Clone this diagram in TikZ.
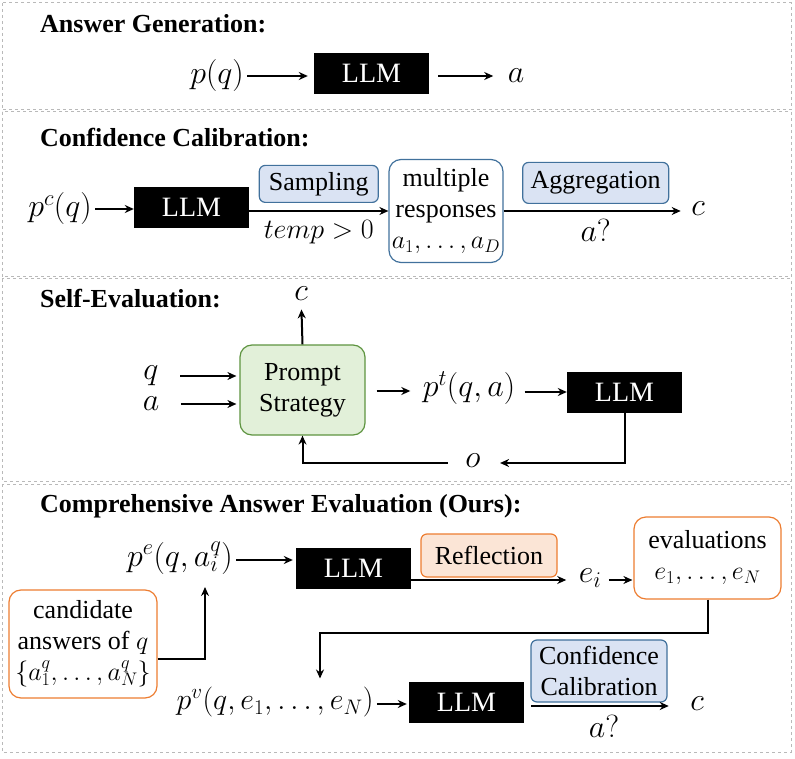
\RequirePackage{fix-cm}
\documentclass[tikz,border=0pt]{standalone}
\usepackage{fontspec}
\setmainfont{Liberation Serif}
\usetikzlibrary{arrows.meta, calc, positioning}
\definecolor{blueFill}{HTML}{DAE3F3}
\definecolor{blueLine}{HTML}{41719C}
\definecolor{orangeFill}{HTML}{FBE5D6}
\definecolor{orangeLine}{HTML}{ED7D31}
\definecolor{greenFill}{HTML}{E2F0D9}
\definecolor{greenLine}{HTML}{5E9440}

\begin{document}
\begin{tikzpicture}[x=1pt, y=-1pt,
    every node/.style={font=\fontsize{26}{31}\selectfont},
    title/.style={anchor=base west, inner sep=0, font=\fontsize{26}{31}\selectfont\bfseries},
    mathlabel/.style={font=\fontsize{32}{36}\selectfont},
    panel/.style={draw=gray!55, dashed, line width=1pt},
    arr/.style={-{Stealth[length=9pt, width=8pt]}, line width=2pt},
    llm/.style={fill=black, text=white, minimum width=115pt, minimum height=41pt, inner sep=0, font=\fontsize{28}{30}\selectfont},
    tagblue/.style={draw=blueLine, fill=blueFill, rounded corners=6pt, line width=1.2pt, inner sep=0},
    tagorange/.style={draw=orangeLine, fill=orangeFill, rounded corners=6pt, line width=1.2pt, inner sep=0},
    boxblue/.style={draw=blueLine, fill=white, rounded corners=12pt, line width=1.2pt, inner sep=0, align=center},
    boxorange/.style={draw=orangeLine, fill=white, rounded corners=12pt, line width=1.2pt, inner sep=0, align=center}
]
    \useasboundingbox (0,0) rectangle (795,759);
    \draw [panel] (2,3) rectangle (791,110);
    \draw [panel] (2,112) rectangle (791,277);
    \draw [panel] (2,279) rectangle (791,481);
    \draw [panel] (2,484) rectangle (791,752);

    % answer generation
    \node [title] (t1) at (40,33) {Answer Generation:};
    \node [mathlabel] (pq) at (217,76) {$p(q)$};
    \node [llm] (llm1) at (371.5,73.5) {LLM};
    \node [mathlabel] (a1) at (516,76) {$a$};
    \draw [arr, shorten >=6pt] (pq.east) -- (pq.east -| llm1.west);
    \draw [arr, shorten <=9pt, shorten >=11pt] (llm1.east |- a1) -- (a1.west);

    % confidence calibration
    \node [title] (t2) at (40,147) {Confidence Calibration:};
    \node [mathlabel] (pcq) at (60,209) {$p^c(q)$};
    \node [llm] (llm2) at (191.5,207.5) {LLM};
    \node [boxblue, minimum width=114pt, minimum height=103pt] (multi) at (446,211)
        {multiple\\responses\\$a_1,\dots,a_D$};
    \node [mathlabel] (c2) at (698,209) {$c$};
    \draw [arr] (pcq.east) -- (pcq.east -| llm2.west);
    \draw [arr] (llm2.east |- multi) -- (multi.west)
        node [tagblue, midway, above=8pt, minimum width=119pt, minimum height=37pt] (samp) {Sampling}
        node [font=\fontsize{28}{32}\selectfont, midway, below=5pt] (temp) {$temp > 0$};
    \draw [arr, shorten >=7pt] (multi.east) -- (multi.east -| c2.west)
        node [tagblue, midway, above=7pt, minimum width=146pt, minimum height=41pt] (aggr) {Aggregation}
        node [mathlabel, midway, below=4pt] (aq2) {$a?$};

    % self-evaluation
    \node [title] (t3) at (40,308) {Self-Evaluation:};
    \node [draw=greenLine, fill=greenFill, rounded corners=12pt, line width=1.2pt, align=center,
        minimum width=125pt, minimum height=90pt, inner sep=0] (ps) at (302.5,390) {Prompt\\Strategy};
    \node [mathlabel] (q3) at (151,376) {$q$};
    \node [mathlabel] (a3) at (151,404) {$a$};
    \node [mathlabel] (c3) at (301,294) {$c$};
    \node [mathlabel] (pt) at (469,388) {$p^t(q,a)$};
    \node [llm] (llm3) at (624.5,392) {LLM};
    \node [mathlabel] (o3) at (473,461) {$o$};
    \draw [arr, shorten <=18pt, shorten >=3pt] (q3) -- (q3 -| ps.west);
    \draw [arr, shorten <=18pt, shorten >=3pt] (a3) -- (a3 -| ps.west);
    \draw [arr, shorten >=5pt] (ps.north) -- (c3);
    \draw [arr, shorten <=11pt, shorten >=9pt] (ps.east |- 0,391) -- (pt.west |- 0,391);
    \draw [arr, shorten <=6pt] (pt.east |- llm3) -- (llm3.west);
    \draw [arr, shorten >=16pt] (llm3.south) |- (o3.east |- 0,463);
    \draw [arr, shorten <=14pt] (o3.west |- 0,463) -| (ps.south);

    % comprehensive answer evaluation
    \node [title] (t4) at (40,512) {Comprehensive Answer Evaluation (Ours):};
    \node [mathlabel] (pe) at (180,558) {$p^e(q,a_i^q)$};
    \node [llm] (llm4) at (353.5,568) {LLM};
    \node [tagorange, minimum width=136pt, minimum height=43pt] (refl) at (489,555.5) {Reflection};
    \node [mathlabel] (ei) at (590,578) {$e_i$};
    \node [boxorange, minimum width=147pt, minimum height=82pt] (evals) at (707.5,558)
        {evaluations\\$e_1,\dots,e_N$};
    \node [boxorange, minimum width=148pt, minimum height=108pt] (cand) at (83,644)
        {candidate\\answers of $q$\\$\{a_1^q,\dots,a_N^q\}$};
    \node [font=\fontsize{30}{34}\selectfont] (pv) at (275,702) {$p^v(q,e_1,\dots,e_N)$};
    \node [llm] (llm5) at (466.5,702.5) {LLM};
    \node [tagblue, align=center, minimum width=136pt, minimum height=62pt] (cc) at (599,671)
        {Confidence\\Calibration};
    \node [mathlabel] (c4) at (697,704) {$c$};
    \node [mathlabel] (aq4) at (604,726) {$a?$};
    \coordinate (turn) at (320,633);
    \coordinate (up) at (205,659);
    \draw [arr, shorten >=3pt] (pe.east |- 0,560) -- (llm4.west |- 0,560);
    \draw [arr, shorten >=9pt] (llm4.east |- 0,580) -- (ei.west |- 0,580);
    \draw [arr, shorten <=4pt, shorten >=1pt] (ei.east |- 0,580) -- (evals.west |- 0,580);
    \draw [arr, shorten >=5pt] (evals.south) |- (turn) -- (turn |- pv.north);
    \draw [arr, shorten >=9pt] (cand.east |- up) -- (up) -- (up |- pe.south);
    \draw [arr, shorten >=2pt] (pv.east |- 0,704) -- (llm5.west |- 0,704);
    \draw [arr, shorten <=7pt, shorten >=18pt] (llm5.east |- 0,706) -- (c4.west |- 0,706);
\end{tikzpicture}
\end{document}
